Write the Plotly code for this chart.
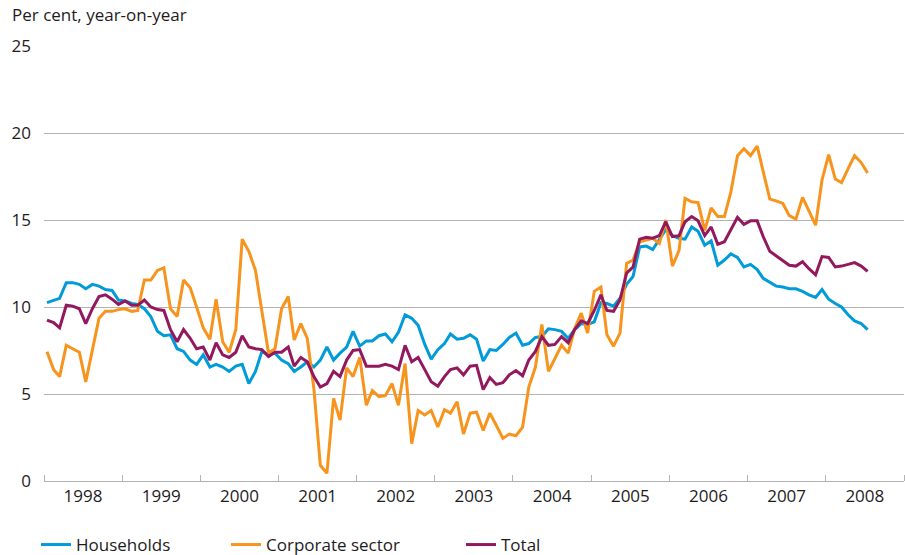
import pandas as pd
import plotly.graph_objects as go

# Monthly observations, January 1998 - July 2008 (per cent, year-on-year)
households = [
    10.25, 10.4, 10.5, 11.4, 11.4, 11.3, 11.05, 11.3, 11.2, 11.0, 10.95, 10.4,
    10.35, 10.2, 10.15, 9.9, 9.45, 8.6, 8.35, 8.4, 7.6, 7.45, 6.95, 6.7,
    7.25, 6.55, 6.7, 6.55, 6.3, 6.6, 6.7, 5.6, 6.3, 7.45, 7.25, 7.35,
    6.95, 6.75, 6.3, 6.55, 6.85, 6.55, 6.95, 7.7, 6.95, 7.35, 7.7, 8.6,
    7.75, 8.05, 8.05, 8.35, 8.45, 8.0, 8.55, 9.55, 9.35, 8.95, 7.85, 7.0,
    7.55, 7.9, 8.45, 8.15, 8.2, 8.4, 8.15, 6.9, 7.55, 7.5, 7.85, 8.25,
    8.5, 7.8, 7.9, 8.25, 8.3, 8.75, 8.7, 8.6, 8.2, 8.7, 9.05, 9.0,
    9.15, 10.25, 10.2, 10.05, 10.5, 11.3, 11.75, 13.45, 13.5, 13.3, 13.85, 14.45,
    14.1, 13.95, 13.9, 14.6, 14.35, 13.55, 13.8, 12.4, 12.7, 13.05, 12.85, 12.3,
    12.45, 12.15, 11.65, 11.4, 11.2, 11.15, 11.05, 11.05, 10.9, 10.7, 10.55, 11.0,
    10.45, 10.2, 10.0, 9.55, 9.2, 9.05, 8.7,
]
corporate = [
    7.43, 6.4, 6.0, 7.8, 7.6, 7.4, 5.7, 7.5, 9.35, 9.75, 9.75, 9.85,
    9.9, 9.75, 9.8, 11.55, 11.55, 12.1, 12.25, 9.9, 9.45, 11.55, 11.1, 10.0,
    8.8, 8.15, 10.45, 8.0, 7.4, 8.7, 13.9, 13.2, 12.1, 9.75, 7.35, 7.6,
    9.9, 10.6, 8.1, 9.05, 8.2, 5.3, 0.9, 0.45, 4.75, 3.5, 6.5, 6.0,
    7.1, 4.35, 5.2, 4.85, 4.9, 5.6, 4.35, 6.75, 2.15, 4.05, 3.8, 4.05,
    3.1, 4.1, 3.9, 4.55, 2.7, 3.9, 3.95, 2.9, 3.9, 3.2, 2.45, 2.7,
    2.6, 3.1, 5.4, 6.55, 9.0, 6.3, 7.05, 7.8, 7.35, 8.75, 9.65, 8.5,
    10.9, 11.15, 8.4, 7.75, 8.5, 12.5, 12.7, 13.75, 13.85, 13.95, 13.65, 15.0,
    12.35, 13.25, 16.25, 16.05, 16.0, 14.4, 15.7, 15.2, 15.2, 16.6, 18.7, 19.1,
    18.7, 19.25, 17.8, 16.2, 16.1, 15.95, 15.25, 15.05, 16.3, 15.5, 14.7, 17.3,
    18.75, 17.35, 17.15, 17.95, 18.7, 18.3, 17.7,
]
total = [
    9.25, 9.1, 8.8, 10.1, 10.05, 9.9, 9.05, 9.9, 10.6, 10.7, 10.45, 10.15,
    10.35, 10.1, 10.1, 10.4, 10.0, 9.85, 9.8, 8.7, 8.0, 8.7, 8.2, 7.6,
    7.7, 6.95, 7.95, 7.25, 7.1, 7.4, 8.35, 7.7, 7.6, 7.55, 7.15, 7.4,
    7.4, 7.7, 6.6, 7.1, 6.85, 6.0, 5.4, 5.6, 6.3, 6.0, 6.95, 7.5,
    7.55, 6.6, 6.6, 6.6, 6.7, 6.6, 6.4, 7.8, 6.85, 7.1, 6.4, 5.7,
    5.45, 6.0, 6.4, 6.5, 6.1, 6.6, 6.65, 5.25, 5.95, 5.55, 5.65, 6.1,
    6.35, 6.05, 6.95, 7.45, 8.3, 7.8, 7.85, 8.3, 7.95, 8.7, 9.2, 9.05,
    9.8, 10.7, 9.8, 9.75, 10.4, 11.95, 12.3, 13.9, 14.0, 13.95, 14.1, 14.9,
    14.05, 14.1, 14.9, 15.2, 14.95, 14.1, 14.6, 13.6, 13.75, 14.45, 15.15, 14.75,
    14.95, 14.95, 14.05, 13.2, 12.95, 12.7, 12.4, 12.35, 12.6, 12.2, 11.85, 12.9,
    12.85, 12.3, 12.35, 12.45, 12.55, 12.35, 12.05,
]
series_names = ["Households", "Corporate sector", "Total"]
y_ticks = [0, 5, 10, 15, 20, 25]

months = pd.date_range("1998-01-01", periods=len(total), freq="MS") + pd.Timedelta(days=14)

FONT = "Open Sans, Noto Sans, sans-serif"
TXT = "#1e1b1c"
colors = ["#009bd8", "#f7941d", "#93195e"]

fig = go.Figure()
for i, (name, vals) in enumerate(zip(series_names, [households, corporate, total])):
    fig.add_trace(go.Scatter(
        x=months, y=vals, mode="lines", name=name,
        line=dict(color=colors[i], width=3),
        legend=["legend", "legend2", "legend3"][i],
    ))

legend_common = dict(
    orientation="h", xref="container", yref="container", yanchor="middle",
    y=(555 - 545) / 555, font=dict(family=FONT, size=17, color=TXT),
    bgcolor="rgba(0,0,0,0)", borderwidth=0, itemwidth=30, xanchor="left",
)

fig.update_layout(
    width=905, height=555,
    margin=dict(l=44, r=1, t=46, b=74, autoexpand=False),
    paper_bgcolor="white", plot_bgcolor="white",
    font=dict(family=FONT, size=17, color=TXT),
    showlegend=True,
    legend=dict(legend_common, x=36 / 905),
    legend2=dict(legend_common, x=226 / 905),
    legend3=dict(legend_common, x=461 / 905),
    xaxis=dict(
        type="date", range=["1998-01-01", "2009-01-01"], automargin=False,
        dtick="M12", tick0="1998-01-01", tickformat="%Y", ticklabelmode="period",
        ticks="inside", ticklen=6, tickcolor="#b3b3b3", tickwidth=1,
        showline=True, linecolor="#b3b3b3", linewidth=1,
        showgrid=False, zeroline=False,
        tickfont=dict(family=FONT, size=17, color=TXT),
    ),
    yaxis=dict(
        range=[0, 25], tickvals=y_ticks, showgrid=True, gridcolor="#b3b3b3", gridwidth=1,
        zeroline=False, showline=False, ticks="", ticklabelstandoff=12, automargin=False,
        tickfont=dict(family=FONT, size=17, color=TXT),
    ),
    annotations=[dict(
        text="Per cent, year-on-year", xref="paper", yref="paper",
        x=(10 - 44) / 860, y=(481 - 15) / 435, xanchor="left", yanchor="middle",
        showarrow=False, font=dict(family=FONT, size=17, color=TXT),
    )],
)

fig.write_html(
    "out.html",
    config={"displayModeBar": False},
    post_script="document.body.style.margin='0';",
)
